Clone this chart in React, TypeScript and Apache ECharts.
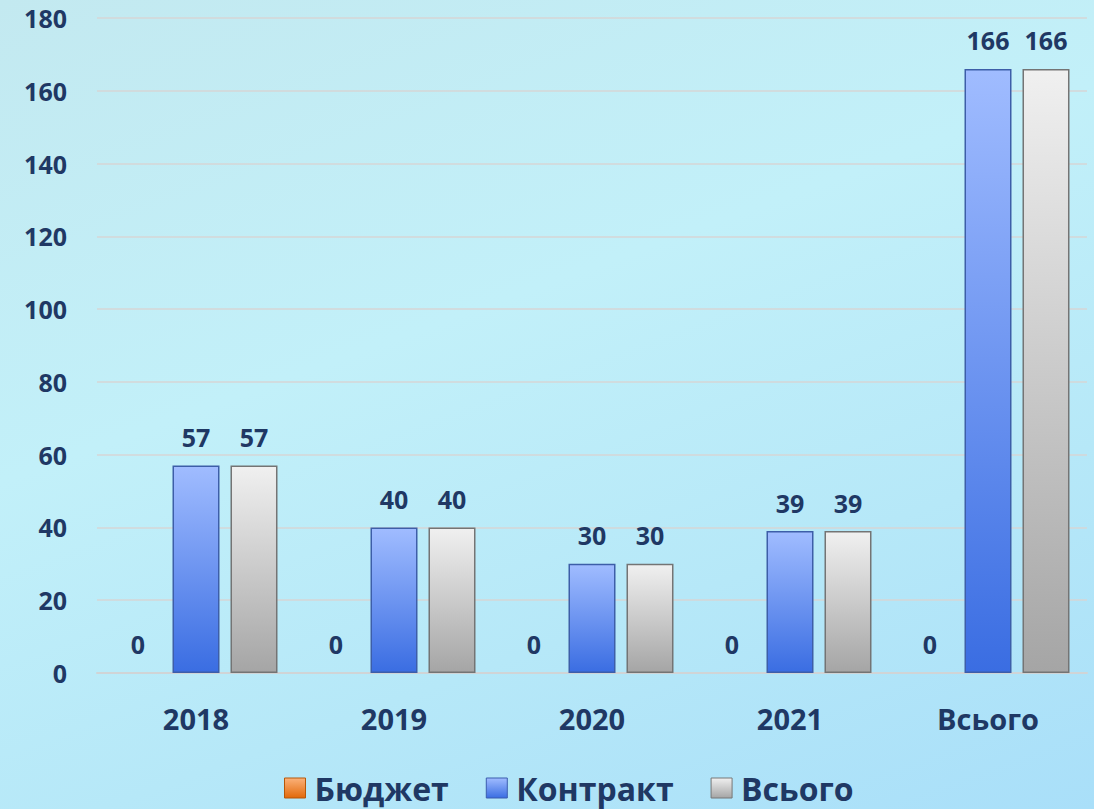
import React, { useEffect, useRef } from "react";
import * as echarts from "echarts";

const categories = ["2018", "2019", "2020", "2021", "Всього"];
const seriesNames = ["Бюджет", "Контракт", "Всього"];
const budget = [0, 0, 0, 0, 0];
const contract = [57, 40, 30, 39, 166];
const total = [57, 40, 30, 39, 166];
const yTicks = { min: 0, max: 180, interval: 20 };

const FONT = "'Open Sans', 'Noto Sans', sans-serif";
const TEXT = "#1f3864";

const grad = (top: string, bottom: string) =>
  new echarts.graphic.LinearGradient(0, 0, 0, 1, [
    { offset: 0, color: top },
    { offset: 1, color: bottom },
  ]);

const orange = () => grad("#fbb27a", "#e2690a");
const blue = () => grad("#a0bcff", "#3a6de2");
const grey = () => grad("#f0f0f0", "#a5a5a5");

export default function App() {
  const ref = useRef<HTMLDivElement>(null);
  useEffect(() => {
    if (!ref.current) return;
    const chart = echarts.init(ref.current, null, { renderer: "svg" });
    const label = (distance: number) => ({
      show: true,
      position: "top",
      distance,
      color: TEXT,
      fontFamily: FONT,
      fontWeight: "bold",
      fontSize: 25,
    });
    chart.setOption({
      animation: false,
      backgroundColor: "transparent",
      textStyle: { fontFamily: FONT },
      grid: { left: 97, right: 7, top: 18, bottom: 136, containLabel: false, outerBoundsMode: "none" },
      legend: {
        top: 767,
        left: 279,
        icon: "rect",
        itemWidth: 21,
        itemHeight: 20,
        itemGap: 37,
        textStyle: {
          color: TEXT,
          fontFamily: FONT,
          fontWeight: "bold",
          fontSize: 32,
          lineHeight: 32,
          padding: [0, 0, 0, 4],
        },
        data: [
          { name: seriesNames[0], itemStyle: { color: orange(), borderColor: "#b65708", borderWidth: 1 } },
          { name: seriesNames[1], itemStyle: { color: blue(), borderColor: "#3b5cae", borderWidth: 1 } },
          { name: seriesNames[2], itemStyle: { color: grey(), borderColor: "#777777", borderWidth: 1 } },
        ],
      },
      xAxis: {
        type: "category",
        data: categories,
        axisLine: { show: true, lineStyle: { color: "#d0d4d6", width: 2 } },
        axisTick: { show: false },
        axisLabel: { color: TEXT, fontFamily: FONT, fontWeight: "bold", fontSize: 29, margin: 31 },
      },
      yAxis: {
        type: "value",
        min: yTicks.min,
        max: yTicks.max,
        interval: yTicks.interval,
        axisLine: { show: false },
        axisTick: { show: false },
        splitLine: { lineStyle: { color: "#d6d6d6", width: 1.5 } },
        axisLabel: { color: TEXT, fontFamily: FONT, fontWeight: "bold", fontSize: 25, margin: 30 },
      },
      series: [
        {
          name: seriesNames[0],
          type: "bar",
          data: budget,
          barWidth: 47,
          barGap: "23.4%",
          itemStyle: { color: orange(), borderWidth: 0 },
          label: label(17),
        },
        {
          name: seriesNames[1],
          type: "bar",
          data: contract,
          barWidth: 47,
          barGap: "23.4%",
          itemStyle: { color: blue(), borderColor: "#3d5ea8", borderWidth: 1.5 },
          label: label(16),
        },
        {
          name: seriesNames[2],
          type: "bar",
          data: total,
          barWidth: 47,
          barGap: "23.4%",
          itemStyle: { color: grey(), borderColor: "#747474", borderWidth: 1.5 },
          label: label(16),
        },
      ],
    });
    return () => chart.dispose();
  }, []);
  return (
    <div
      ref={ref}
      style={{
        position: "fixed",
        left: 0,
        top: 0,
        width: 1094,
        height: 809,
        background: "linear-gradient(160deg, #c3e9f0 0%, #c2f0f9 40%, #b6e8f8 70%, #a9dff9 100%)",
      }}
    />
  );
}
